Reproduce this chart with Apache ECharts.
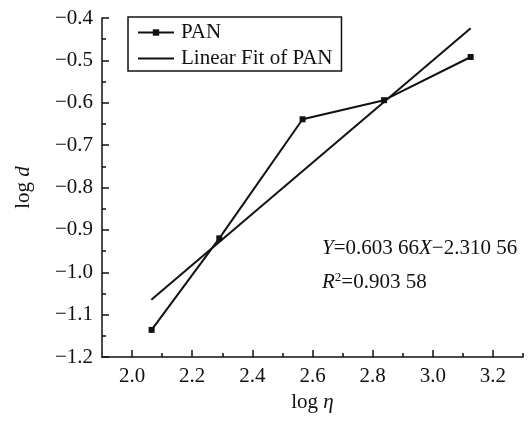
<!DOCTYPE html>
<html>
<head>
<meta charset="utf-8">
<script src="https://cdn.jsdelivr.net/npm/echarts@6/dist/echarts.min.js"></script>
<style>html,body{margin:0;padding:0;background:#fff;}#c{width:528px;height:421px;}</style>
</head>
<body>
<div id="c"></div>
<script>
// ---- data ----
var panX = [2.065, 2.290, 2.567, 2.838, 3.126];
var panY = [-1.136, -0.920, -0.639, -0.594, -0.492];
var fitX = [2.064, 3.126];
var fitY = [-1.065, -0.424];
var xMajorTicks = [2.0, 2.2, 2.4, 2.6, 2.8, 3.0, 3.2];
var xMinorTicks = [2.1, 2.3, 2.5, 2.7, 2.9, 3.1, 3.3];
var yMajorTicks = [-1.2, -1.1, -1.0, -0.9, -0.8, -0.7, -0.6, -0.5, -0.4];
var yMinorTicks = [-1.15, -1.05, -0.95, -0.85, -0.75, -0.65, -0.55, -0.45];
var seriesNames = ['PAN', 'Linear Fit of PAN'];
var equationText = ['Y', '=0.603 66', 'X', '\u22122.310 56'];
var r2Text = ['R', '2', '=0.903 58'];

var FONT = '"Liberation Serif", "DejaVu Serif", serif';
var FS = 21;
var C = '#111';
function fmt(v){ var s = Math.abs(v).toFixed(1); return (v < 0 ? '\u2212' : '') + s; }

var chart = echarts.init(document.getElementById('c'), null, {renderer: 'canvas'});
var axisBase = {
  type: 'value', splitLine: {show: false}
};
chart.setOption({
  animation: false,
  backgroundColor: '#fff',
  grid: {left: 102, right: 5, top: 18, bottom: 64},
  xAxis: [
    Object.assign({}, axisBase, {
      min: 1.9, max: 3.3, position: 'bottom',
      axisLine: {show: true, lineStyle: {color: C, width: 1.5}},
      axisTick: {show: true, inside: true, length: 7, customValues: xMajorTicks, lineStyle: {color: C, width: 1.5}},
      axisLabel: {customValues: xMajorTicks, formatter: fmt, color: C, fontFamily: FONT, fontSize: FS, margin: 9},
      name: 'log {i|\u03b7}', nameLocation: 'middle', nameGap: 34,
      nameTextStyle: {color: C, fontFamily: FONT, fontSize: FS, rich: {i: {fontStyle: 'italic', fontFamily: FONT, fontSize: FS, color: C}}}
    }),
    Object.assign({}, axisBase, {
      min: 1.9, max: 3.3, position: 'bottom',
      axisLine: {show: false},
      axisTick: {show: true, inside: true, length: 4, customValues: xMinorTicks, lineStyle: {color: C, width: 1.5}},
      axisLabel: {show: false}
    })
  ],
  yAxis: [
    Object.assign({}, axisBase, {
      min: -1.2, max: -0.4, position: 'left',
      axisLine: {show: true, lineStyle: {color: C, width: 1.5}},
      axisTick: {show: true, inside: true, length: 7, customValues: yMajorTicks, lineStyle: {color: C, width: 1.5}},
      axisLabel: {customValues: yMajorTicks, formatter: fmt, color: C, fontFamily: FONT, fontSize: FS, margin: 9},
      name: 'log {i|d}', nameLocation: 'middle', nameGap: 68, nameRotate: 90,
      nameTextStyle: {color: C, fontFamily: FONT, fontSize: FS, rich: {i: {fontStyle: 'italic', fontFamily: FONT, fontSize: FS, color: C}}}
    }),
    Object.assign({}, axisBase, {
      min: -1.2, max: -0.4, position: 'left',
      axisLine: {show: false},
      axisTick: {show: true, inside: true, length: 4, customValues: yMinorTicks, lineStyle: {color: C, width: 1.5}},
      axisLabel: {show: false}
    })
  ],
  legend: {
    orient: 'vertical', left: 128, top: 17,
    padding: [5, 9, 2, 9], itemGap: 5, itemWidth: 36, itemHeight: 8,
    borderColor: C, borderWidth: 1.5,
    textStyle: {color: C, fontFamily: FONT, fontSize: FS, padding: [0, 0, 0, 2]},
    data: [seriesNames[0], {name: seriesNames[1], itemStyle: {opacity: 0}}]
  },
  series: [
    {
      name: seriesNames[0], type: 'line', xAxisIndex: 0, yAxisIndex: 0,
      data: panX.map(function(x, i){ return [x, panY[i]]; }),
      symbol: 'rect', symbolSize: 6, showSymbol: true,
      lineStyle: {color: C, width: 2}, itemStyle: {color: C}
    },
    {
      name: seriesNames[1], type: 'line', xAxisIndex: 0, yAxisIndex: 0,
      data: fitX.map(function(x, i){ return [x, fitY[i]]; }),
      symbol: 'none', showSymbol: false,
      lineStyle: {color: C, width: 2}, itemStyle: {color: C}
    }
  ],
  graphic: [
    {
      type: 'text', left: 322, top: 238,
      style: {
        text: '{i|' + equationText[0] + '}' + equationText[1] + '{i|' + equationText[2] + '}' + equationText[3],
        fill: C, font: FS + 'px ' + FONT,
        rich: {i: {fontStyle: 'italic', fontFamily: FONT, fontSize: FS, fill: C}}
      }
    },
    {
      type: 'text', left: 322, top: 271,
      style: {
        text: '{i|' + r2Text[0] + '}{s|' + r2Text[1] + '}' + r2Text[2],
        fill: C, font: FS + 'px ' + FONT,
        rich: {
          i: {fontStyle: 'italic', fontFamily: FONT, fontSize: FS, fill: C},
          s: {fontFamily: FONT, fontSize: 13, fill: C, verticalAlign: 'top', padding: [0, 0, 10, 0]}
        }
      }
    }
  ]
});
</script>
</body>
</html>
